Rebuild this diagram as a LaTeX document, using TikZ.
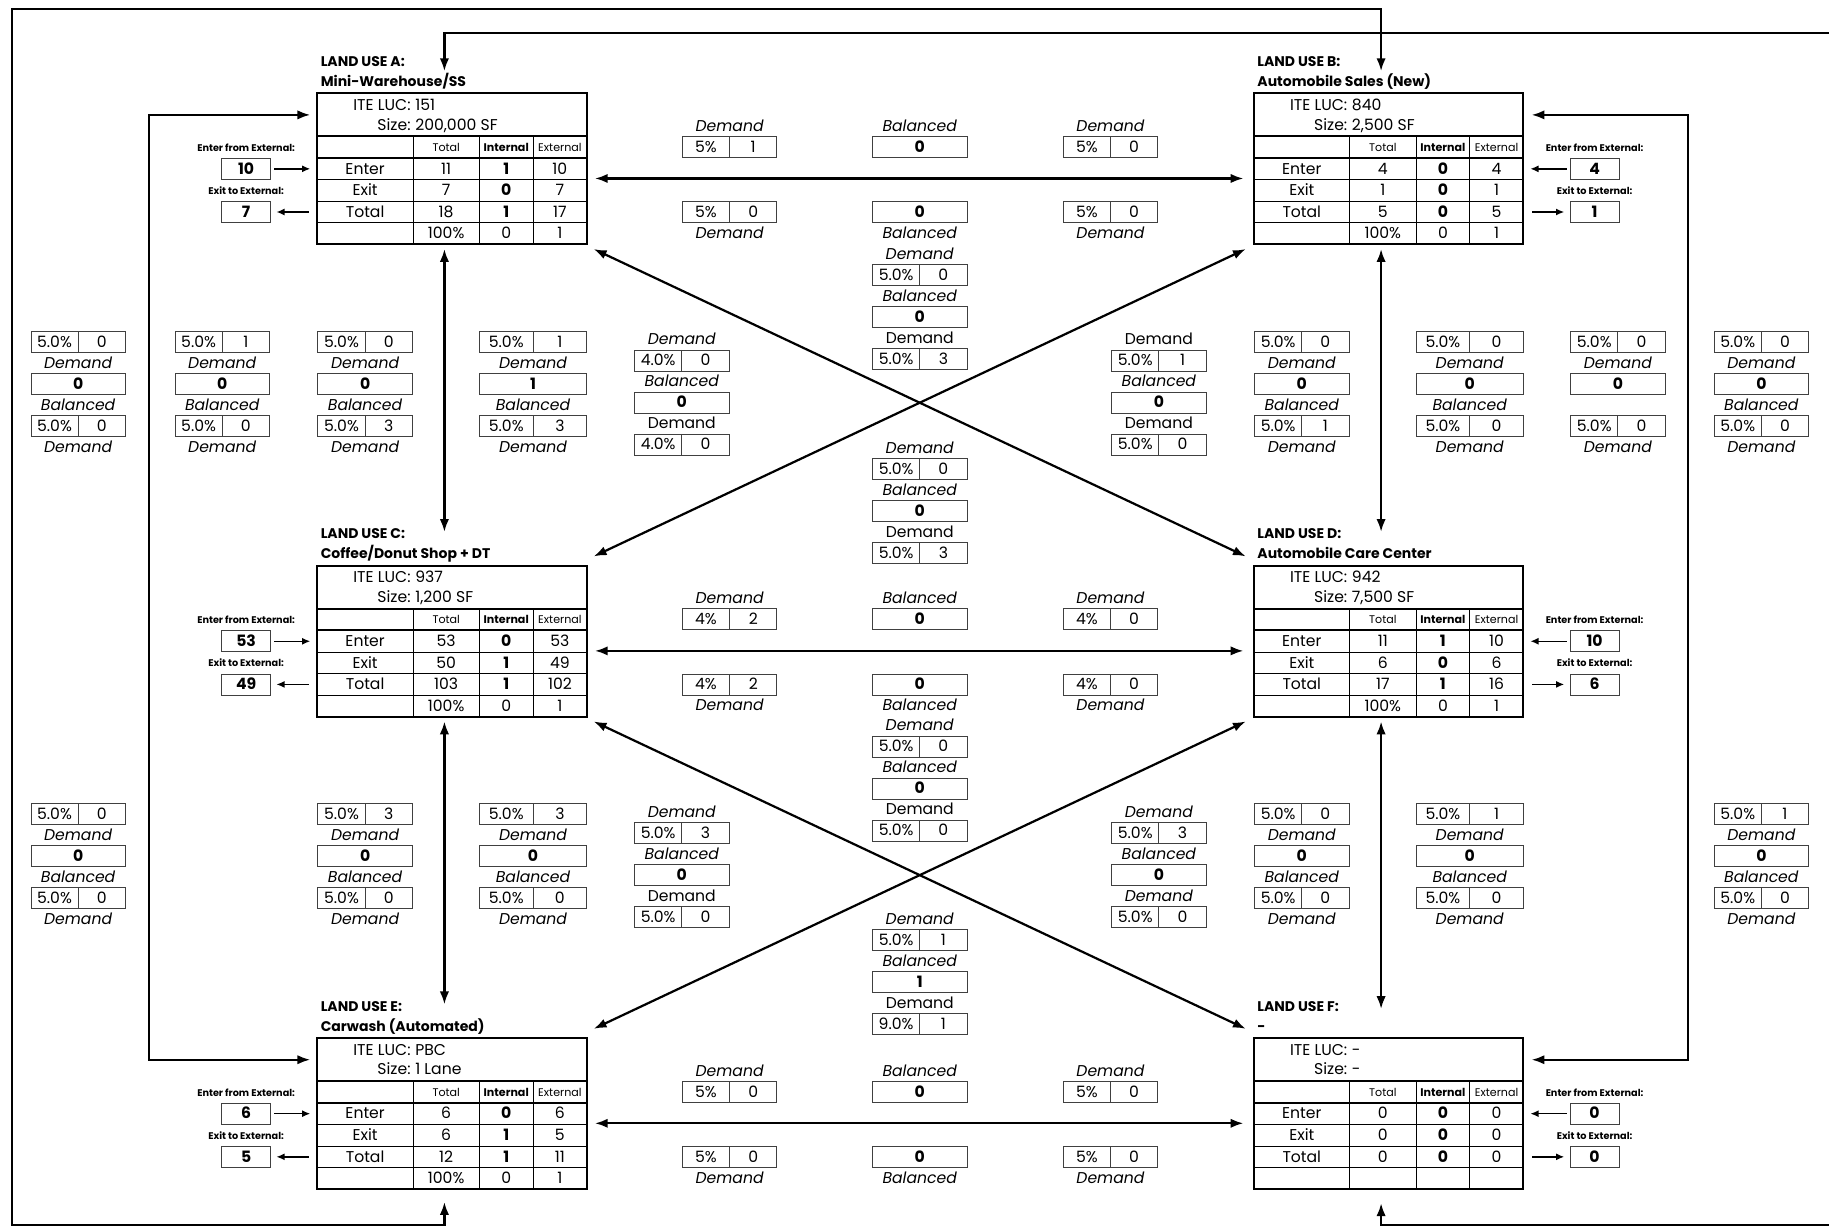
\documentclass[tikz,border=0pt]{standalone}
\usepackage{fontspec}
\setmainfont{Poppins}
\usetikzlibrary{positioning,calc,arrows.meta}

\newcommand{\fbody}{\fontsize{13.4}{13.4}\selectfont}
\newcommand{\fsmall}{\fontsize{9.5}{9.5}\selectfont}
\newcommand{\ftiny}{\fontsize{8.3}{8.3}\selectfont}
\newcommand{\Dem}{\textit{Demand}}
\newcommand{\Dup}{Demand}
\newcommand{\Bal}{\textit{Balanced}}
\newcommand{\hw}{40.5}
\newcommand{\gap}{4.5pt}

% pair box: id, placement, pct, value
\newcommand{\pr}[4]{%
  \node[cell, minimum width={2*\hw*1pt}, #2] (#1) {};
  \draw[cellline] (#1.north) -- (#1.south);
  \node[txt] (#1-p) at ([xshift={-0.5*\hw*1pt}]#1.center) {#3};
  \node[txt] (#1-v) at ([xshift={0.5*\hw*1pt}]#1.center) {#4};}
% balanced box: id, placement, value
\newcommand{\bl}[3]{\node[cell, minimum width={2*\hw*1pt}, font=\fbody\bfseries, #2] (#1) {#3};}

% vertical group: id, cx, y, pair, balanced, pair, middle label
\newcommand{\vgrp}[7]{%
  \pr{#1-a}{at={(#2,#3)}}#4
  \node[tag, below=\gap of #1-a] (#1-al) {\Dem};
  \bl{#1-b}{below=\gap of #1-al}{#5}
  \node[tag, below=\gap of #1-b] (#1-bl) {#7};
  \pr{#1-c}{below=\gap of #1-bl}#6
  \node[tag, below=\gap of #1-c] (#1-cl) {\Dem};}
% centre group: id, cx, y, label, pair, balanced, label, pair
\newcommand{\cgrp}[8]{%
  \node[tag] (#1-al) at (#2,#3) {#4};
  \pr{#1-a}{below=\gap of #1-al}#5
  \node[tag, below=\gap of #1-a] (#1-bl) {\Bal};
  \bl{#1-b}{below=\gap of #1-bl}{#6}
  \node[tag, below=\gap of #1-b] (#1-cl) {#7};
  \pr{#1-c}{below=\gap of #1-cl}#8}
% columns along a link: id, cx, y, pair/value above, pair/value below
\newcommand{\hcol}[5]{%
  \node[tag] (#1-al) at (#2,#3) {\Dem};
  \pr{#1-a}{below=\gap of #1-al}#4
  \pr{#1-c}{at={(#2,#3+74)}}#5
  \node[tag, below=\gap of #1-c] (#1-cl) {\Dem};}
\newcommand{\hbal}[5]{%
  \node[tag] (#1-al) at (#2,#3) {\Bal};
  \bl{#1-a}{below=\gap of #1-al}{#4}
  \bl{#1-c}{at={(#2,#3+74)}}{#5}
  \node[tag, below=\gap of #1-c] (#1-cl) {\Bal};}

% land use table: id, x, y, letter, name, luc, size
\newcommand{\lutab}[7]{%
  \def\tid{#1}\def\tx{#2}\def\ty{#3}%
  \node[tbl, anchor=north west] (#1) at (#2,#3) {};
  \node[ttl, anchor=base west] (#1-nm) at (#2+3,#3-6) {#5};
  \node[ttl, anchor=base west] (#1-lu) at (#2+3,#3-23) {LAND USE #4:};
  \node[txt, anchor=east] (#1-k1) at (#2+80,#3+10) {ITE LUC:};
  \node[txt, anchor=west] (#1-v1) at (#2+84,#3+10) {#6};
  \node[txt, anchor=east] (#1-k2) at (#2+80,#3+27) {Size:};
  \node[txt, anchor=west] (#1-v2) at (#2+84,#3+27) {#7};
  \draw[tblthick] (#2,#3+37) -- ++(231,0) (#2,#3+55.5) -- ++(231,0);
  \draw[tblthin] (#2,#3+74) -- ++(231,0) (#2,#3+92.5) -- ++(231,0) (#2,#3+111) -- ++(231,0);
  \foreach \cx in {82,139,185} \draw[tblthin] (#2+\cx,#3+37) -- ++(0,92.5);
  \node[hdr] (#1-ht) at (#2+110.5,#3+46.25) {Total};
  \node[hdr, font=\fsmall\bfseries] (#1-hi) at (#2+162,#3+46.25) {Internal};
  \node[hdr] (#1-he) at (#2+208,#3+46.25) {External};
  \coordinate (#1-n) at (#2+109,#3);
  \coordinate (#1-s) at (#2+109,#3+129.5);
  \coordinate (#1-w) at (#2,#3+18.5);
  \coordinate (#1-e) at (#2+231,#3+18.5);
  \coordinate (#1-mw) at (#2,#3+73);
  \coordinate (#1-me) at (#2+231,#3+73);}
% table row: k, label, total, internal, external
\newcommand{\lurow}[5]{%
  \node[txt] (\tid-r#1l) at (\tx+41,\ty+46.25+18.5*#1) {#2};
  \node[txt] (\tid-r#1t) at (\tx+110.5,\ty+46.25+18.5*#1) {#3};
  \node[txt] (\tid-r#1i) at (\tx+162,\ty+46.25+18.5*#1) {\ifnum#1<4 \bfseries\fi #4};
  \node[txt] (\tid-r#1e) at (\tx+208,\ty+46.25+18.5*#1) {#5};}
% external trips: id, cx, cy, caption, value
\newcommand{\extio}[5]{%
  \node[capt] (#1-c) at (#2,#3-18) {#4};
  \node[iobox] (#1) at (#2,#3) {#5};}

\begin{document}
\begin{tikzpicture}[
    x=1pt, y=-1pt,
    txt/.style={inner sep=0pt, outer sep=0pt, font=\fbody, text height=9pt, text depth=0pt},
    tag/.style={txt},
    hdr/.style={txt, font=\fsmall, text height=6.7pt},
    capt/.style={txt, font=\ftiny\bfseries, text height=6pt},
    ttl/.style={inner sep=0pt, outer sep=0pt, font=\fontsize{12}{12}\selectfont\bfseries},
    cell/.style={txt, draw=black!75, line width=0.7pt, minimum height=18pt},
    cellline/.style={draw=black!75, line width=0.7pt},
    iobox/.style={cell, minimum width=42pt, font=\fbody\bfseries},
    tbl/.style={draw, line width=1.7pt, minimum width=231pt, minimum height=129.5pt, inner sep=0pt, outer sep=0pt},
    tblthick/.style={line width=1.7pt},
    tblthin/.style={line width=0.7pt},
    link/.style={line width=1.9pt, {Latex[length=11pt,width=8pt]}-{Latex[length=11pt,width=8pt]}},
    io/.style={line width=1.2pt, -{Latex[length=7pt,width=6pt]}, shorten <=3pt, shorten >=6pt},
    iob/.style={line width=1.2pt, {Latex[length=7pt,width=6pt]}-, shorten <=5pt, shorten >=7pt}
]
    \useasboundingbox (0,0) rectangle (1568,1054);
    \clip (0,0) rectangle (1568,1054);

    % land uses
    \lutab{luA}{272}{80}{A}{Mini-Warehouse/SS}{151}{200,000 SF}
    \lurow{1}{Enter}{11}{1}{10}
    \lurow{2}{Exit}{7}{0}{7}
    \lurow{3}{Total}{18}{1}{17}
    \lurow{4}{}{100\%}{0}{1}
    \lutab{luB}{1075}{80}{B}{Automobile Sales (New)}{840}{2,500 SF}
    \lurow{1}{Enter}{4}{0}{4}
    \lurow{2}{Exit}{1}{0}{1}
    \lurow{3}{Total}{5}{0}{5}
    \lurow{4}{}{100\%}{0}{1}
    \lutab{luC}{272}{485}{C}{Coffee/Donut Shop + DT}{937}{1,200 SF}
    \lurow{1}{Enter}{53}{0}{53}
    \lurow{2}{Exit}{50}{1}{49}
    \lurow{3}{Total}{103}{1}{102}
    \lurow{4}{}{100\%}{0}{1}
    \lutab{luD}{1075}{485}{D}{Automobile Care Center}{942}{7,500 SF}
    \lurow{1}{Enter}{11}{1}{10}
    \lurow{2}{Exit}{6}{0}{6}
    \lurow{3}{Total}{17}{1}{16}
    \lurow{4}{}{100\%}{0}{1}
    \lutab{luE}{272}{890}{E}{Carwash (Automated)}{PBC}{1 Lane}
    \lurow{1}{Enter}{6}{0}{6}
    \lurow{2}{Exit}{6}{1}{5}
    \lurow{3}{Total}{12}{1}{11}
    \lurow{4}{}{100\%}{0}{1}
    \lutab{luF}{1075}{890}{F}{-}{-}{-}
    \lurow{1}{Enter}{0}{0}{0}
    \lurow{2}{Exit}{0}{0}{0}
    \lurow{3}{Total}{0}{0}{0}
    \lurow{4}{}{}{}{}

    % external trips
    \extio{aIn}{211}{144.75}{Enter from External:}{10}
    \extio{aOut}{211}{181.75}{Exit to External:}{7}
    \extio{bIn}{1367}{144.75}{Enter from External:}{4}
    \extio{bOut}{1367}{181.75}{Exit to External:}{1}
    \extio{cIn}{211}{549.75}{Enter from External:}{53}
    \extio{cOut}{211}{586.75}{Exit to External:}{49}
    \extio{dIn}{1367}{549.75}{Enter from External:}{10}
    \extio{dOut}{1367}{586.75}{Exit to External:}{6}
    \extio{eIn}{211}{954.75}{Enter from External:}{6}
    \extio{eOut}{211}{991.75}{Exit to External:}{5}
    \extio{fIn}{1367}{954.75}{Enter from External:}{0}
    \extio{fOut}{1367}{991.75}{Exit to External:}{0}
    \draw[io] (aIn) -- (aIn -| luA.west);
    \draw[iob] (aOut) -- (aOut -| luA.west);
    \draw[io] (cIn) -- (cIn -| luC.west);
    \draw[iob] (cOut) -- (cOut -| luC.west);
    \draw[io] (eIn) -- (eIn -| luE.west);
    \draw[iob] (eOut) -- (eOut -| luE.west);
    \draw[io] (bIn) -- (bIn -| luB.east);
    \draw[iob] (bOut) -- (bOut -| luB.east);
    \draw[io] (dIn) -- (dIn -| luD.east);
    \draw[iob] (dOut) -- (dOut -| luD.east);
    \draw[io] (fIn) -- (fIn -| luF.east);
    \draw[iob] (fOut) -- (fOut -| luF.east);

    % demand along the horizontal links
    \hcol{abL}{625.5}{108}{{5\%}{1}}{{5\%}{0}}
    \hbal{abM}{788.5}{108}{0}{0}
    \hcol{abR}{952}{108}{{5\%}{0}}{{5\%}{0}}
    \hcol{cdL}{625.5}{513}{{4\%}{2}}{{4\%}{2}}
    \hbal{cdM}{788.5}{513}{0}{0}
    \hcol{cdR}{952}{513}{{4\%}{0}}{{4\%}{0}}
    \hcol{efL}{625.5}{918}{{5\%}{0}}{{5\%}{0}}
    \hbal{efM}{788.5}{918}{0}{0}
    \hcol{efR}{952}{918}{{5\%}{0}}{{5\%}{0}}

    % demand between the rows
    \vgrp{g1}{67}{293}{{5.0\%}{0}}{0}{{5.0\%}{0}}{\Bal}
    \vgrp{g2}{190.5}{293}{{5.0\%}{1}}{0}{{5.0\%}{0}}{\Bal}
    \vgrp{g3}{313}{293}{{5.0\%}{0}}{0}{{5.0\%}{3}}{\Bal}
    \vgrp{g5}{1116}{293}{{5.0\%}{0}}{0}{{5.0\%}{1}}{\Bal}
    \vgrp{g7}{1387}{293}{{5.0\%}{0}}{0}{{5.0\%}{0}}{}
    \vgrp{g8}{1510}{293}{{5.0\%}{0}}{0}{{5.0\%}{0}}{\Bal}
    \vgrp{h1}{67}{698}{{5.0\%}{0}}{0}{{5.0\%}{0}}{\Bal}
    \vgrp{h3}{313}{698}{{5.0\%}{3}}{0}{{5.0\%}{0}}{\Bal}
    \vgrp{h5}{1116}{698}{{5.0\%}{0}}{0}{{5.0\%}{0}}{\Bal}
    \vgrp{h8}{1510}{698}{{5.0\%}{1}}{0}{{5.0\%}{0}}{\Bal}
    \begin{scope}
    \renewcommand{\hw}{46}
    \vgrp{g4}{457}{293}{{5.0\%}{1}}{1}{{5.0\%}{3}}{\Bal}
    \vgrp{g6}{1260}{293}{{5.0\%}{0}}{0}{{5.0\%}{0}}{\Bal}
    \vgrp{h4}{457}{698}{{5.0\%}{3}}{0}{{5.0\%}{0}}{\Bal}
    \vgrp{h6}{1260}{698}{{5.0\%}{1}}{0}{{5.0\%}{0}}{\Bal}
    \end{scope}

    % demand along the diagonals
    \cgrp{m1}{788.5}{218}{\Dem}{{5.0\%}{0}}{0}{\Dup}{{5.0\%}{3}}
    \cgrp{m2}{788.5}{384}{\Dem}{{5.0\%}{0}}{0}{\Dup}{{5.0\%}{3}}
    \cgrp{l1}{584.5}{291}{\Dem}{{4.0\%}{0}}{0}{\Dup}{{4.0\%}{0}}
    \cgrp{r1}{993.5}{291}{\Dup}{{5.0\%}{1}}{0}{\Dup}{{5.0\%}{0}}
    \cgrp{m3}{788.5}{622}{\Dem}{{5.0\%}{0}}{0}{\Dup}{{5.0\%}{0}}
    \cgrp{m4}{788.5}{788}{\Dem}{{5.0\%}{1}}{1}{\Dup}{{9.0\%}{1}}
    \cgrp{l2}{584.5}{696}{\Dem}{{5.0\%}{3}}{0}{\Dup}{{5.0\%}{0}}
    \cgrp{r2}{993.5}{696}{\Dem}{{5.0\%}{3}}{0}{\Dem}{{5.0\%}{0}}

    % links between land uses
    \draw[link] ([xshift=7pt]luA-me) -- ([xshift=-9pt]luB-mw);
    \draw[link] ([xshift=7pt]luC-me) -- ([xshift=-9pt]luD-mw);
    \draw[link] ([xshift=7pt]luE-me) -- ([xshift=-9pt]luF-mw);
    \draw[link, shorten <=4pt, shorten >=29pt] (luA-s) -- (luC-n);
    \draw[link, shorten <=4pt, shorten >=29pt] (luC-s) -- (luE-n);
    \draw[link, shorten <=4pt, shorten >=29pt] (luB-s) -- (luD-n);
    \draw[link, shorten <=4pt, shorten >=25pt] (luD-s) -- (luF-n);
    \draw[link] ([shift={(6,4)}]luA.south east) -- ([shift={(-7,-8)}]luD.north west);
    \draw[link] ([shift={(-7,4)}]luB.south west) -- ([shift={(6,-8)}]luC.north east);
    \draw[link] ([shift={(6,4)}]luC.south east) -- ([shift={(-7,-8)}]luF.north west);
    \draw[link] ([shift={(-7,4)}]luD.south west) -- ([shift={(6,-8)}]luE.north east);

    % links round the outside
    \coordinate (c-l) at (128,0);
    \coordinate (c-r) at (1447,0);
    \coordinate (c-nw) at (10,8);
    \coordinate (c-sw) at (10,1050);
    \coordinate (c-ne) at (1580,28);
    \coordinate (c-se) at (1580,1050);
    \draw[link] ([xshift=-6pt]luA-w) -- (luA-w -| c-l) -- (luE-w -| c-l) -- ([xshift=-6pt]luE-w);
    \draw[link] ([xshift=7pt]luB-e) -- (luB-e -| c-r) -- (luF-e -| c-r) -- ([xshift=7pt]luF-e);
    \draw[link] ([yshift=-11pt]luE-s) |- (c-sw) -- (c-nw) -| ([yshift=19pt]luB-n);
    \draw[link] ([yshift=19pt]luA-n) |- (c-ne) -- (c-se) -| ([yshift=-12pt]luF-s);
\end{tikzpicture}
\end{document}
